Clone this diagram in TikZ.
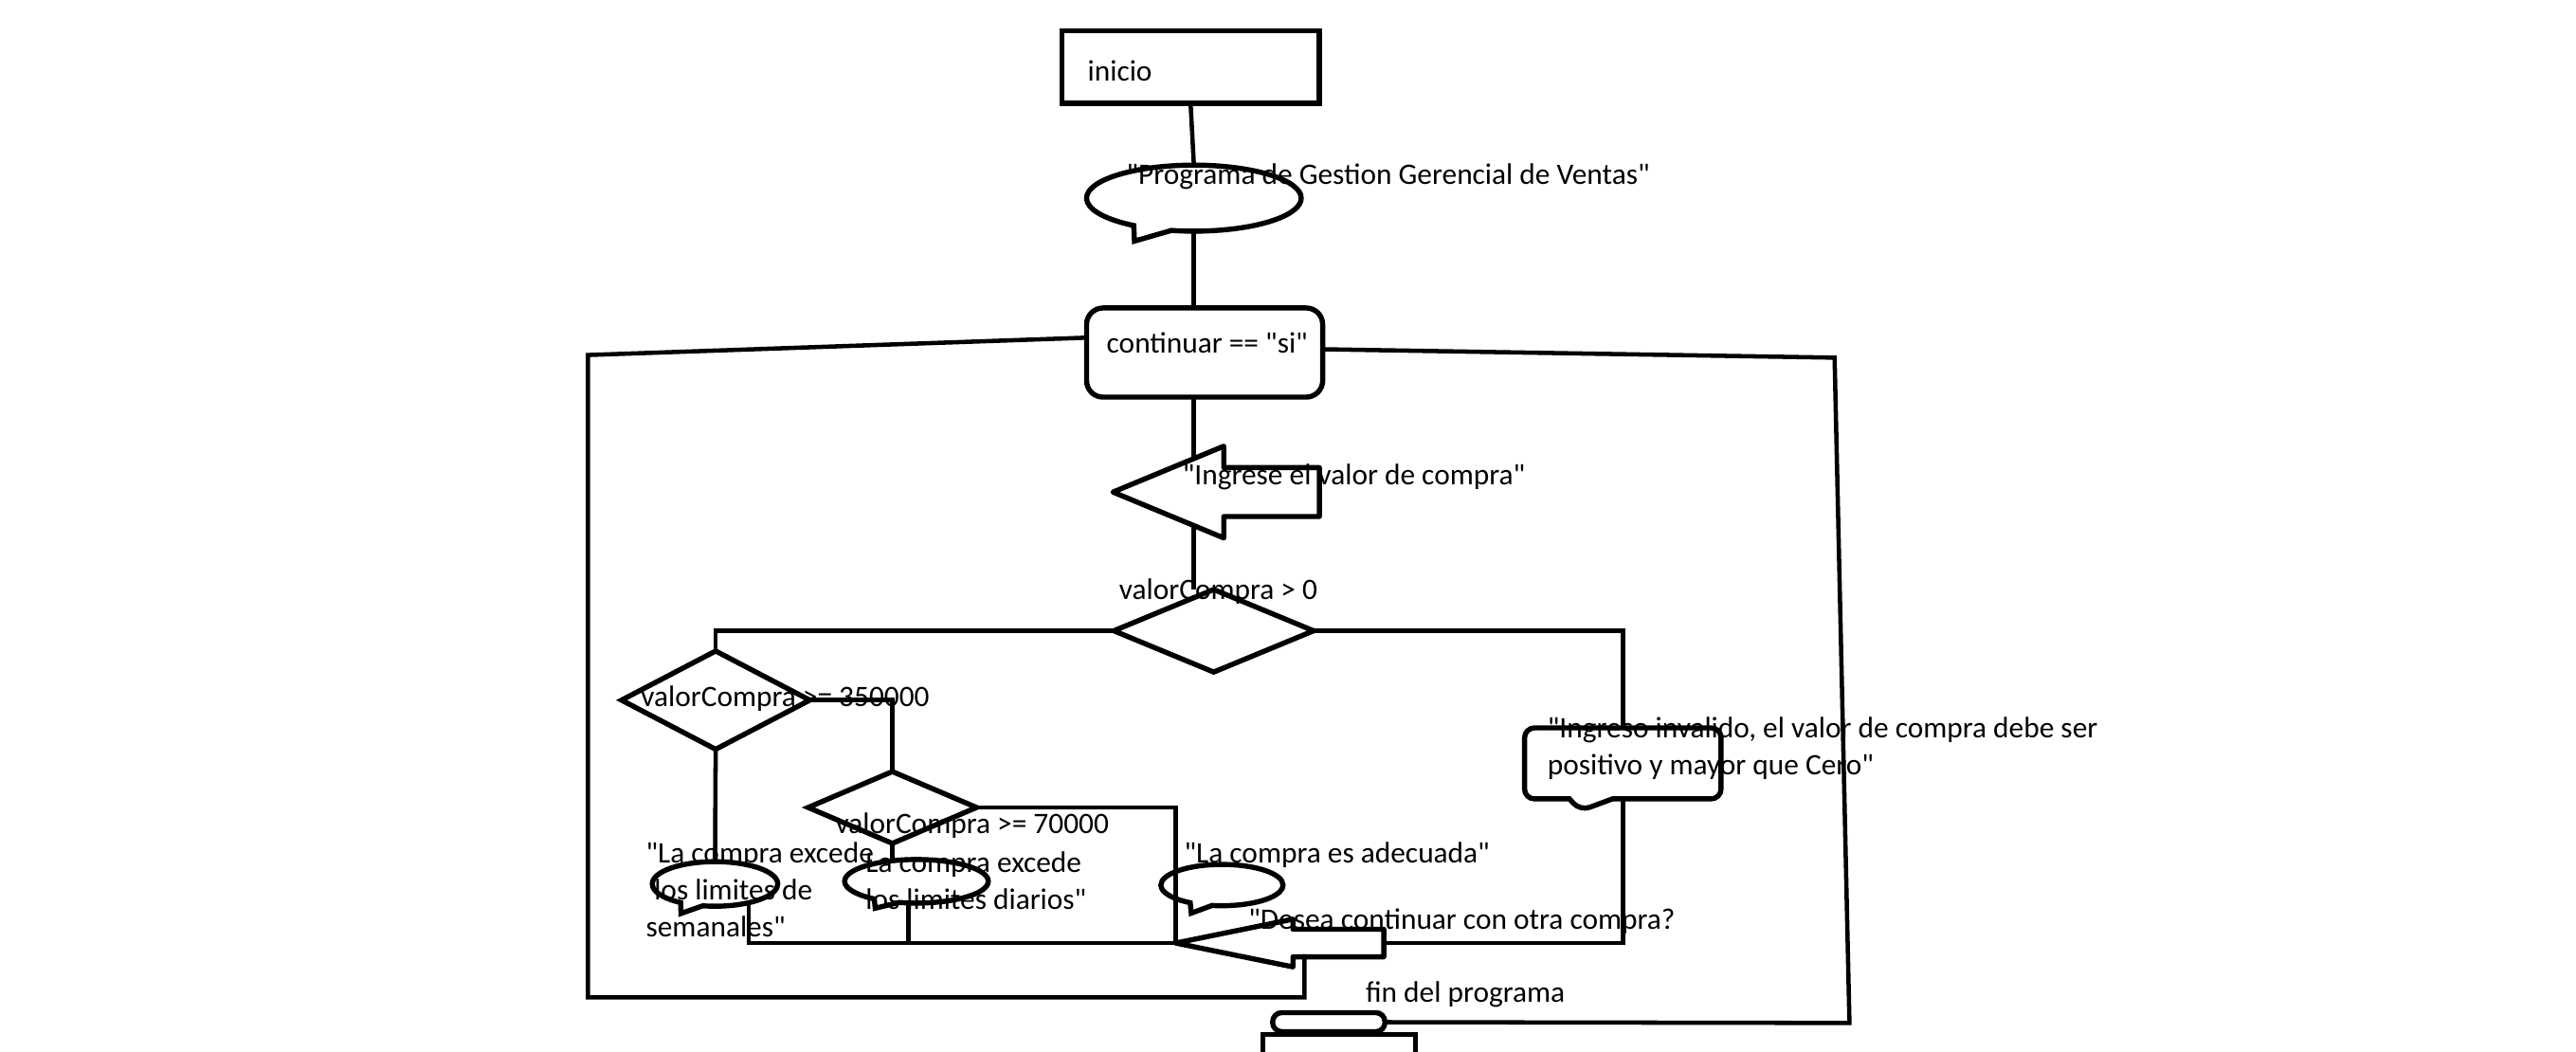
\documentclass[tikz,border=0pt]{standalone}
\usepackage{fontspec}
\setmainfont{Carlito}[Ligatures=TeXOff]
\usetikzlibrary{positioning, shapes.geometric, shapes.arrows, shapes.callouts}

\tikzset{
  fcbase/.style={draw=black, line width=3.1pt, inner sep=0pt, outer sep=0pt},
  procbox/.style={fcbase, rectangle},
  roundbox/.style={fcbase, rectangle, rounded corners=10pt},
  decision/.style={fcbase, diamond},
  bubble/.style={fcbase, ellipse callout, callout pointer arc=22},
  notebubble/.style={fcbase, rectangle callout, rounded corners=6pt},
  leftarrow/.style={fcbase, fill=white, single arrow, shape border rotate=180, anchor=tip, line join=round},
  conn/.style={line width=2.6pt, black},
  txt/.style={inner sep=0pt, font=\fontsize{18}{22.2}\selectfont, anchor=base west},
}

\begin{document}
\begin{tikzpicture}[x=1pt, y=-1pt]
  \clip (0,0) rectangle (1560,637);
  \fill[white] (0,0) rectangle (1560,637);
  \coordinate (eje) at (723,0);

  % shapes
  \node[procbox, minimum width=156pt, minimum height=44pt] (inicio) at (721,40.6) {};
  \node[bubble, minimum width=130pt, minimum height=40pt, callout absolute pointer={(687,146)}] (intro) at (723,120) {};
  \node[roundbox, minimum width=143pt, minimum height=54pt] (cont) at (729.5,213.5) {};
  \node[decision, minimum width=121pt, minimum height=50pt] (dec1) at (735,382) {};
  \draw[conn] (eje |- cont.south) -- (eje |- dec1.north);
  \node[leftarrow, minimum height=125pt, inner ysep=13.25pt, single arrow head extend=13pt, single arrow tip angle=45] (ingreso) at (674,298) {};
  \node[decision, minimum width=114pt, minimum height=59.5pt] (dec2) at (433.4,424) {};
  \node[decision, minimum width=102pt, minimum height=43.5pt] (dec3) at (540.4,489) {};
  \node[bubble, minimum width=76pt, minimum height=27pt, callout absolute pointer={(412.4,553.2)}] (semanal) at (433,535.3) {};
  \node[bubble, minimum width=87pt, minimum height=26.4pt, callout absolute pointer={(530,550)}] (diario) at (555,533.7) {};
  \node[bubble, minimum width=74pt, minimum height=25pt, callout absolute pointer={(721.4,553)}] (adecuada) at (740,536) {};
  \node[notebubble, minimum width=119pt, minimum height=43pt, callout pointer width=26pt, callout absolute pointer={(957,491)}] (invalido) at (982.75,462.3) {};
  \node[leftarrow, minimum height=126pt, inner ysep=6.8pt, single arrow head extend=6.1pt, single arrow tip angle=23] (desea) at (712,571.1) {};
  \node[roundbox, rounded corners=5.5pt, minimum width=68pt, minimum height=11.5pt] (finb) at (804.7,619) {};
  \node[procbox, minimum width=92.3pt, minimum height=30pt, anchor=north] (fin) at (810.9,626.6) {};

  % texts
  \node[txt] (inicio-t) at (658.5,49) {inicio};
  \node[txt] (intro-t) at (682,111.5) {"Programa de Gestion Gerencial de Ventas"};
  \node[txt] (cont-t) at (670,214) {continuar == "si"};
  \node[txt] (ingreso-t) at (716,293.8) {"Ingrese el valor de compra"};
  \node[txt] (dec1-t) at (677.6,362.8) {valorCompra > 0};
  \node[txt] (dec2-t) at (388,428) {valorCompra >= 350000};
  \node[txt] (dec3-t) at (505.8,505) {valorCompra >= 70000};
  \node[txt, align=left] (semanal-t) at (391,567.1) {"La compra excede\\\hspace*{5pt}los limites de\\semanales"};
  \node[txt, align=left] (diario-t) at (524,550.7) {La compra excede\\los limites diarios"};
  \node[txt] (adecuada-t) at (717,522.5) {"La compra es adecuada"};
  \node[txt, align=left] (invalido-t) at (937,469) {"Ingreso invalido, el valor de compra debe ser\\positivo y mayor que Cero"};
  \node[txt] (desea-t) at (755.9,562.5) {"Desea continuar con otra compra?};
  \node[txt] (fin-t) at (826.9,606.9) {fin del programa};

  % connectors
  \draw[conn] (inicio.south) -- (intro.north);
  \draw[conn] (intro.south) -- (intro.south |- cont.north);
  \draw[conn] (dec1.west) -| (dec2.north);
  \draw[conn] (dec1.east) -| (invalido.north);
  \draw[conn] (dec2.east) -| (dec3.north);
  \draw[conn] (dec2.south) -- (semanal.north);
  \draw[conn] (dec3.south) -- (dec3.south |- diario.north);
  \draw[conn] (dec3.east) -| (desea.tip);
  \draw[conn] (semanal.-29) |- (desea.tip);
  \draw[conn] (diario.-110) -- (diario.-110 |- desea.tip);
  \draw[conn] (invalido.south) |- (desea.tail);

  % loops
  \coordinate (vi-b) at (356,604);
  \coordinate (vi-a) at (356,215);
  \coordinate (vd-a) at (1111,216.6);
  \coordinate (vd-b) at (1120,619.5);
  \draw[conn] ([xshift=-48pt,yshift=-6.8pt]desea.tail) |- (vi-b) -- (vi-a) -- ([yshift=9pt]cont.west);
  \draw[conn] ([yshift=2pt]cont.east) -- (vd-a) -- (vd-b) -- (finb.east);
\end{tikzpicture}
\end{document}
